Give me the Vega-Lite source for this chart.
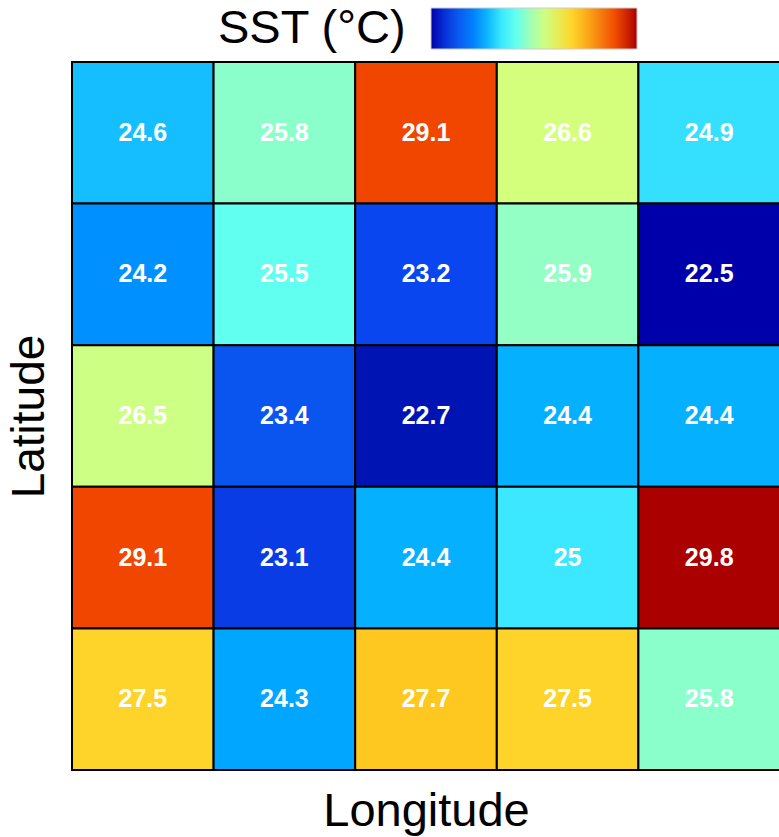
{
  "$schema": "https://vega.github.io/schema/vega-lite/v6.json",
  "width": 708,
  "height": 708,
  "autosize": "none",
  "padding": {"left": 72, "top": 62, "right": 0, "bottom": 67},
  "background": "white",
  "config": {"view": {"stroke": null}, "font": "Liberation Sans"},
  "data": {
    "values": [
      {"lon": 1, "lat": 5, "sst": 24.6}, {"lon": 2, "lat": 5, "sst": 25.8}, {"lon": 3, "lat": 5, "sst": 29.1}, {"lon": 4, "lat": 5, "sst": 26.6}, {"lon": 5, "lat": 5, "sst": 24.9},
      {"lon": 1, "lat": 4, "sst": 24.2}, {"lon": 2, "lat": 4, "sst": 25.5}, {"lon": 3, "lat": 4, "sst": 23.2}, {"lon": 4, "lat": 4, "sst": 25.9}, {"lon": 5, "lat": 4, "sst": 22.5},
      {"lon": 1, "lat": 3, "sst": 26.5}, {"lon": 2, "lat": 3, "sst": 23.4}, {"lon": 3, "lat": 3, "sst": 22.7}, {"lon": 4, "lat": 3, "sst": 24.4}, {"lon": 5, "lat": 3, "sst": 24.4},
      {"lon": 1, "lat": 2, "sst": 29.1}, {"lon": 2, "lat": 2, "sst": 23.1}, {"lon": 3, "lat": 2, "sst": 24.4}, {"lon": 4, "lat": 2, "sst": 25}, {"lon": 5, "lat": 2, "sst": 29.8},
      {"lon": 1, "lat": 1, "sst": 27.5}, {"lon": 2, "lat": 1, "sst": 24.3}, {"lon": 3, "lat": 1, "sst": 27.7}, {"lon": 4, "lat": 1, "sst": 27.5}, {"lon": 5, "lat": 1, "sst": 25.8}
    ]
  },
  "encoding": {
    "x": {"field": "lon", "type": "ordinal", "axis": {"title": "Longitude", "labels": false, "ticks": false, "domain": false, "titleFontSize": 47, "titleFontWeight": "normal", "titleColor": "black", "titlePadding": 18}},
    "y": {"field": "lat", "type": "ordinal", "sort": "descending", "axis": {"title": "Latitude", "labels": false, "ticks": false, "domain": false, "titleFontSize": 46, "titleFontWeight": "normal", "titleColor": "black", "titlePadding": 19}}
  },
  "layer": [
    {
      "mark": {"type": "rect", "stroke": "black", "strokeWidth": 2},
      "encoding": {
        "color": {
          "field": "sst", "type": "quantitative", "title": "SST (°C)",
          "scale": {
            "domain": [22.5, 22.7, 23.1, 23.2, 23.4, 24.2, 24.3, 24.4, 24.6, 24.9, 25.0, 25.5, 25.8, 25.9, 26.5, 26.6, 27.5, 27.7, 29.1, 29.8],
            "range": ["#0000AA", "#0014B4", "#0A3CE6", "#0A46F0", "#0A55F0", "#0090FF", "#00A6FF", "#05B0FF", "#14BEFF", "#35E0FF", "#3CE8FF", "#60FFF0", "#8AFFCC", "#94FFC4", "#CCFF84", "#D4FF7C", "#FFD42A", "#FFC820", "#F04600", "#AA0000"],
            "interpolate": "rgb"
          },
          "legend": {
            "orient": "none", "direction": "horizontal", "legendX": 146, "legendY": -54, "padding": 0,
            "gradientLength": 206, "gradientThickness": 41, "gradientStrokeColor": "#cccccc", "gradientStrokeWidth": 1,
            "titleOrient": "left", "titleFontSize": 47, "titleFontWeight": "normal", "titleColor": "black", "titleLimit": 400, "titlePadding": 24, "titleBaseline": "middle",
            "labelExpr": "''", "labelOpacity": 0, "labelFontSize": 1
          }
        }
      }
    },
    {
      "mark": {"type": "text", "fontSize": 25, "fontWeight": "bold", "color": "white"},
      "encoding": {"text": {"field": "sst", "type": "quantitative"}}
    }
  ]
}
